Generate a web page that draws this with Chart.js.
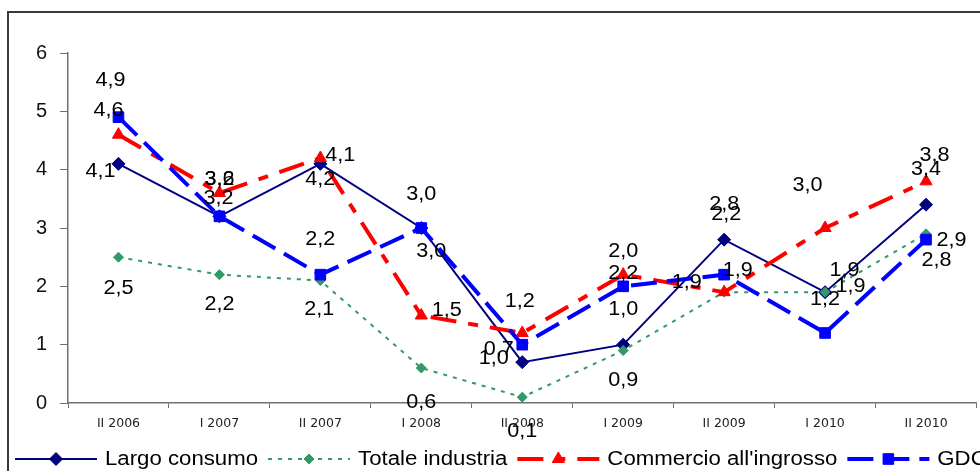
<!DOCTYPE html>
<html>
<head>
<meta charset="utf-8">
<script src="https://cdn.jsdelivr.net/npm/chart.js@4/dist/chart.umd.min.js"></script>
<style>
  html, body { margin: 0; padding: 0; background: #fff; overflow: hidden; }
  canvas { display: block; }
</style>
</head>
<body>
<canvas id="c" width="985" height="471"></canvas>
<script>
// Periods (semesters)
const periods = ['II 2006', 'I 2007', 'II 2007', 'I 2008', 'II 2008', 'I 2009', 'II 2009', 'I 2010', 'II 2010'];

// Series values
const largoConsumo      = [4.1, 3.2, 4.1, 3.0, 0.7, 1.0, 2.8, 1.9, 3.4];
const totaleIndustria   = [2.5, 2.2, 2.1, 0.6, 0.1, 0.9, 1.9, 1.9, 2.9];
const commercioIngrosso = [4.6, 3.6, 4.2, 1.5, 1.2, 2.2, 1.9, 3.0, 3.8];
const gdo               = [4.9, 3.2, 2.2, 3.0, 1.0, 2.0, 2.2, 1.2, 2.8];

// Y axis ticks
const yTicks = [0, 1, 2, 3, 4, 5, 6];

// Value-label nudges (pixels from each point), one pair per point
const largoLabelShift     = [[-18, 8], [-1, -18], [20, -8], [10, 23.5], [-23.5, -13], [0, -35], [0, -35], [19.5, -21.7], [0, -35]];
const totaleLabelShift    = [[0, 31], [0, 30], [-1, 28.5], [0, 34.5], [0, 34], [0, 30], [13.5, -22], [25.5, -5.7], [25.5, 7]];
const commercioLabelShift = [[-10, -24], [0, -13.5], [0, 21.5], [25.5, -5], [-2.5, -31.5], [0, -1], [-37.5, -10], [-17.5, -42.5], [8.5, -26]];
const gdoLabelShift       = [[-8, -37], [0, -37], [0, -35], [0, -33.5], [-28.5, 14], [0, -35], [2, -60], [0, -33.5], [10.5, 20.5]];

const FONT = "'Liberation Sans', Arial, sans-serif";

const datasets = [
  {
    label: 'Largo consumo', data: largoConsumo, shift: largoLabelShift,
    borderColor: '#000080', backgroundColor: '#000080', borderWidth: 2,
    pointStyle: 'rectRot', pointRadius: 6.5, pointBorderWidth: 1, order: 3
  },
  {
    label: 'Totale industria', data: totaleIndustria, shift: totaleLabelShift,
    borderColor: '#339966', backgroundColor: '#339966', borderWidth: 2, borderDash: [4, 6],
    pointStyle: 'rectRot', pointRadius: 5, pointBorderWidth: 1, order: 2
  },
  {
    label: "Commercio all'ingrosso", data: commercioIngrosso, shift: commercioLabelShift,
    borderColor: '#FF0000', backgroundColor: '#FF0000', borderWidth: 4, borderDash: [26, 12, 10, 12],
    pointStyle: 'triangle', pointRadius: 7, pointBorderWidth: 1, order: 1
  },
  {
    label: 'GDO', data: gdo, shift: gdoLabelShift,
    borderColor: '#0000FF', backgroundColor: '#0000FF', borderWidth: 4, borderDash: [26, 10],
    pointStyle: 'rect', pointRadius: 7.5, pointBorderWidth: 1, order: 0
  }
];

const fmt = v => v.toFixed(1).replace('.', ',');

// White page + outer frame
const framePlugin = {
  id: 'frame',
  beforeDraw(chart) {
    const ctx = chart.ctx;
    ctx.save();
    ctx.fillStyle = '#fff';
    ctx.fillRect(0, 0, chart.width, chart.height);
    ctx.restore();
  },
  afterDraw(chart) {
    const ctx = chart.ctx;
    ctx.save();
    ctx.strokeStyle = '#3a3a3a';
    ctx.lineWidth = 2;
    ctx.strokeRect(8, 12, chart.width + 20, chart.height + 20);
    ctx.restore();
  }
};

// Value labels beside each point
const valueLabels = {
  id: 'valueLabels',
  afterDatasetsDraw(chart) {
    const ctx = chart.ctx;
    ctx.save();
    ctx.font = '20px ' + FONT;
    ctx.fillStyle = '#000';
    ctx.textAlign = 'center';
    ctx.textBaseline = 'middle';
    chart.data.datasets.forEach((ds, i) => {
      const meta = chart.getDatasetMeta(i);
      meta.data.forEach((pt, j) => {
        const s = ds.shift[j];
        ctx.save();
        ctx.translate(pt.x + s[0], pt.y + s[1]);
        ctx.scale(1.08, 1);
        ctx.fillText(fmt(ds.data[j]), 0, 0);
        ctx.restore();
      });
    });
    ctx.restore();
  }
};

// Legend row along the bottom, each entry a line sample with its marker
const bottomLegend = {
  id: 'bottomLegend',
  afterDraw(chart) {
    const ctx = chart.ctx;
    const y = 459;
    const stretch = 1.11;
    let x = 15;
    ctx.save();
    ctx.font = '20px ' + FONT;
    ctx.textBaseline = 'middle';
    ctx.textAlign = 'left';
    chart.data.datasets.forEach(ds => {
      const len = 82;
      ctx.save();
      ctx.strokeStyle = ds.borderColor;
      ctx.lineWidth = ds.borderWidth;
      ctx.setLineDash(ds.borderDash || []);
      ctx.beginPath();
      ctx.moveTo(x, y);
      ctx.lineTo(x + len, y);
      ctx.stroke();
      ctx.setLineDash([]);
      ctx.fillStyle = ds.backgroundColor;
      ctx.strokeStyle = ds.borderColor;
      ctx.lineWidth = 1;
      Chart.helpers.drawPoint(ctx, { pointStyle: ds.pointStyle, radius: ds.pointRadius, borderWidth: 1, rotation: 0 }, x + len / 2, y);
      ctx.restore();
      const tx = x + len + 8;
      ctx.fillStyle = '#000';
      ctx.save();
      ctx.translate(tx, y);
      ctx.scale(stretch, 1);
      ctx.fillText(ds.label, 0, 0);
      ctx.restore();
      x = tx + ctx.measureText(ds.label).width * stretch + 10;
    });
    ctx.restore();
  }
};

new Chart(document.getElementById('c'), {
  type: 'line',
  data: { labels: periods, datasets },
  options: {
    responsive: false,
    animation: false,
    devicePixelRatio: 1,
    layout: { padding: { left: 8, right: 0, top: 53, bottom: 38 } },
    plugins: { legend: { display: false }, tooltip: { enabled: false } },
    elements: { line: { tension: 0, fill: false } },
    scales: {
      x: {
        type: 'category',
        offset: true,
        grid: { offset: true, drawOnChartArea: false, drawTicks: true, tickLength: 5, color: '#707070', lineWidth: 1 },
        border: { color: '#707070', width: 1.5 },
        ticks: { font: { family: "'DejaVu Sans', Verdana, sans-serif", size: 12.5 }, color: '#222', padding: 8, maxRotation: 0, autoSkip: false },
        afterFit(s) { s.height = 30; }
      },
      y: {
        min: 0, max: 6,
        afterBuildTicks(s) { s.ticks = yTicks.map(v => ({ value: v })); },
        grid: { drawOnChartArea: false, drawTicks: true, tickLength: 8, color: '#707070', lineWidth: 1 },
        border: { color: '#707070', width: 1.5 },
        ticks: { font: { family: FONT, size: 20 }, color: '#111', padding: 13 },
        afterFit(s) { s.width = 60; }
      }
    }
  },
  plugins: [framePlugin, valueLabels, bottomLegend]
});
</script>
</body>
</html>
